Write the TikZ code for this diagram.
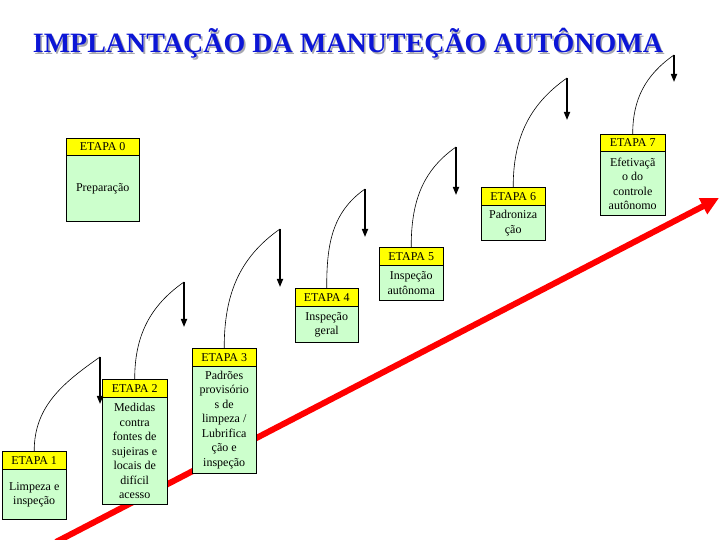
\documentclass[tikz,border=0pt]{standalone}
\usepackage{fontspec}
\setmainfont{Liberation Serif}
\usepackage{xcolor}
\usepackage{tikz}
\usetikzlibrary{arrows.meta, positioning}
\definecolor{TitleBlue}{RGB}{12, 22, 214}
\definecolor{ShadowGray}{RGB}{168, 168, 176}
\definecolor{HeadYellow}{RGB}{255, 255, 0}
\definecolor{BodyGreen}{RGB}{204, 255, 204}
\definecolor{RiseRed}{RGB}{255, 0, 0}

\tikzset{
  etapahead/.style={
    draw=black,
    fill=HeadYellow,
    anchor=north west,
    inner sep=0pt,
    font=\fontsize{12}{14.5}\selectfont
  },
  etapabody/.style={
    draw=black,
    fill=BodyGreen,
    inner sep=0pt,
    align=center,
    font=\fontsize{12}{14.5}\selectfont
  },
  climb/.style={black, line width=0.6pt},
  drop/.style={black, line width=1.6pt, -{Triangle[length=8pt,width=6pt]}},
  rise/.style={RiseRed, line width=6pt, -{Triangle[length=18pt,width=17pt]}}
}

\begin{document}
\begin{tikzpicture}[x=1pt, y=1pt]
        \useasboundingbox (0,0) rectangle (720,540);

        % rising line behind the stages
        \coordinate (rs) at (56,-2);
        \coordinate (re) at (719,342);
        \draw[rise] (rs) -- (re);

        % title with shadow
        \node[
          anchor=base,
          text=ShadowGray,
          font=\fontsize{28}{30}\selectfont\bfseries
        ] (titleshadow) at (349.6,485.4) {IMPLANTAÇÃO DA MANUTEÇÃO AUTÔNOMA};
        \node[
          anchor=base,
          text=TitleBlue,
          font=\fontsize{28}{30}\selectfont\bfseries
        ] (title) at (348,487) {IMPLANTAÇÃO DA MANUTEÇÃO AUTÔNOMA};

        % stages
        \node[etapahead, minimum width=73pt, minimum height=17pt] (h0) at (66,402) {ETAPA 0};
        \node[etapabody, minimum width=73pt, minimum height=66pt, below=0pt of h0] (b0) {Preparação};

        \node[etapahead, minimum width=64pt, minimum height=18pt] (h1) at (2,89) {ETAPA 1};
        \node[etapabody, minimum width=64pt, minimum height=50pt, below=0pt of h1] (b1) {Limpeza e\\inspeção};

        \node[etapahead, minimum width=65pt, minimum height=18pt] (h2) at (102,161) {ETAPA 2};
        \node[etapabody, minimum width=65pt, minimum height=107pt, below=0pt of h2] (b2)
          {Medidas\\contra\\fontes de\\sujeiras e\\locais de\\difícil\\acesso};

        \node[etapahead, minimum width=64pt, minimum height=18pt] (h3) at (192,192) {ETAPA 3};
        \node[etapabody, minimum width=64pt, minimum height=107pt, below=0pt of h3] (b3)
          {Padrões\\provisório\\s de\\limpeza /\\Lubrifica\\ção e\\inspeção};

        \node[etapahead, minimum width=63pt, minimum height=18pt] (h4) at (295,252) {ETAPA 4};
        \node[etapabody, minimum width=63pt, minimum height=36pt, below=0pt of h4] (b4) {Inspeção\\geral};

        \node[etapahead, minimum width=64pt, minimum height=18pt] (h5) at (379,293) {ETAPA 5};
        \node[etapabody, minimum width=64pt, minimum height=35pt, below=0pt of h5] (b5) {Inspeção\\autônoma};

        \node[etapahead, minimum width=64pt, minimum height=18pt] (h6) at (481,353) {ETAPA 6};
        \node[etapabody, minimum width=64pt, minimum height=35pt, below=0pt of h6] (b6) {Padroniza\\ção};

        \node[etapahead, minimum width=65pt, minimum height=17pt] (h7) at (600,406) {ETAPA 7};
        \node[etapabody, minimum width=65pt, minimum height=64pt, below=0pt of h7] (b7)
          {Efetivaçã\\o do\\controle\\autônomo};

        % step arrows
        \coordinate (c1) at (100,183); \coordinate (t1) at (100,136);
        \coordinate (c2) at (184,258); \coordinate (t2) at (184,213);
        \coordinate (c3) at (280,311); \coordinate (t3) at (280,253);
        \coordinate (c4) at (365,351); \coordinate (t4) at (365,303);
        \coordinate (c5) at (456,393); \coordinate (t5) at (456,345);
        \coordinate (c6) at (567,462); \coordinate (t6) at (567,420);
        \coordinate (c7) at (674,485); \coordinate (t7) at (674,458);
        \foreach \i in {1,...,7} {
          \draw[climb] (h\i.north) to[out=90, in=215] (c\i);
          \draw[drop] (c\i) -- (t\i);
        }
      \end{tikzpicture}
\end{document}
